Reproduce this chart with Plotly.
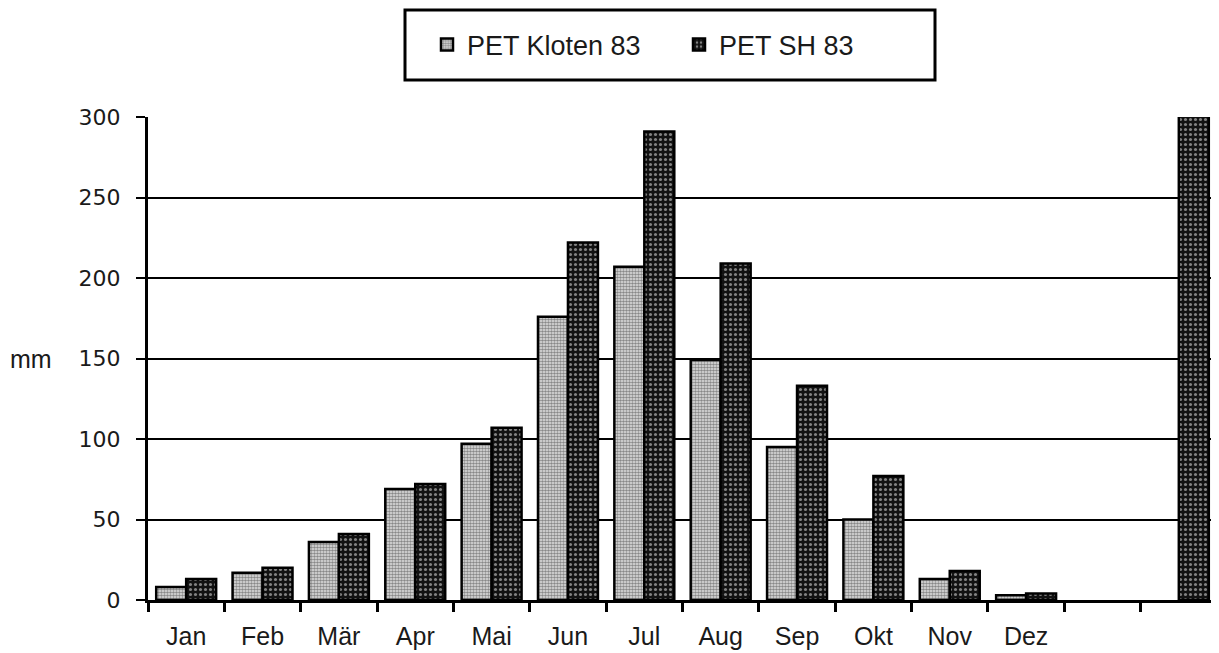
import plotly.graph_objects as go

# ---- data ----
categories = ["Jan", "Feb", "Mär", "Apr", "Mai", "Jun", "Jul", "Aug", "Sep", "Okt", "Nov", "Dez", " ", "  "]
pet_kloten_83 = [8, 17, 36, 69, 97, 176, 207, 149, 95, 50, 13, 3, None, None]
pet_sh_83 = [13, 20, 41, 72, 107, 222, 291, 209, 133, 77, 18, 4, None, 320]
y_ticks = [0, 50, 100, 150, 200, 250, 300]

FONT = "Liberation Sans, Arial, Helvetica, sans-serif"
FONT_WIDE = "DejaVu Sans, Verdana, sans-serif"
FONT_NARROW = "Liberation Sans Narrow, Arial Narrow, Liberation Sans, sans-serif"

fig = go.Figure()
fig.add_trace(go.Bar(
    name="PET Kloten 83", x=categories, y=pet_kloten_83,
    marker=dict(color="#a8a8a8", line=dict(color="black", width=2.5),
                pattern=dict(shape=".", fgcolor="#2a2a2a", bgcolor="#e6e6e6",
                             size=3, solidity=0.6)),
))
fig.add_trace(go.Bar(
    name="PET SH 83", x=categories, y=pet_sh_83,
    marker=dict(color="#222222", line=dict(color="black", width=2.5),
                pattern=dict(shape=".", fgcolor="#f2f2f2", bgcolor="#111111",
                             size=5, solidity=0.3)),
))

# page body has an 8px margin, so figure pixel = reference pixel - 8
OFF = 8
W, H = 1219 - OFF, 653 - OFF
ml, mr, mt, mb = 148 - OFF, 2, 117 - OFF, 653 - 600
pw, ph = W - ml - mr, H - mt - mb

def px_x(p):
    return (p - OFF - ml) / pw

def px_y(p):
    return (H - mb - (p - OFF)) / ph

fig.update_layout(
    width=W, height=H,
    margin=dict(l=ml, r=mr, t=mt, b=mb),
    paper_bgcolor="white", plot_bgcolor="white",
    font=dict(family=FONT, color="black"),
    barmode="group", bargap=0.215, bargroupgap=0.0,
    showlegend=True,
    legend=dict(orientation="h", x=px_x(427), y=px_y(45), xanchor="left", yanchor="middle",
                font=dict(size=27, family=FONT_NARROW, color="#1a1a1a"),
                bgcolor="rgba(0,0,0,0)", borderwidth=0,
                entrywidth=207, entrywidthmode="pixels", traceorder="normal"),
    xaxis=dict(type="category", categoryorder="array", categoryarray=categories,
               range=[-0.5, len(categories) - 0.5],
               showline=True, linecolor="black", linewidth=3,
               ticks="outside", tickson="boundaries", ticklen=9, tickwidth=2.5, tickcolor="black",
               tickfont=dict(size=25, family=FONT, color="#1a1a1a"),
               showgrid=False, ticklabelstandoff=12),
    yaxis=dict(range=[0, 300], tickvals=y_ticks, ticktext=[str(v) for v in y_ticks],
               showline=True, linecolor="black", linewidth=3,
               ticks="outside", ticklen=9, tickwidth=2, tickcolor="black",
               showgrid=True, gridcolor="black", gridwidth=2, zeroline=False,
               tickfont=dict(size=22, family=FONT_WIDE, color="#1a1a1a"),
               ticklabelstandoff=11),
    shapes=[dict(type="rect", xref="paper", yref="paper",
                 x0=px_x(405), x1=px_x(935), y0=px_y(80), y1=px_y(10),
                 line=dict(color="black", width=3), fillcolor="rgba(0,0,0,0)")],
    annotations=[dict(text="mm", xref="paper", yref="y", x=px_x(8), y=150,
                      xanchor="left", yanchor="middle", showarrow=False,
                      font=dict(size=25, family=FONT, color="#1a1a1a"))],
)

fig.write_html("out.html")
